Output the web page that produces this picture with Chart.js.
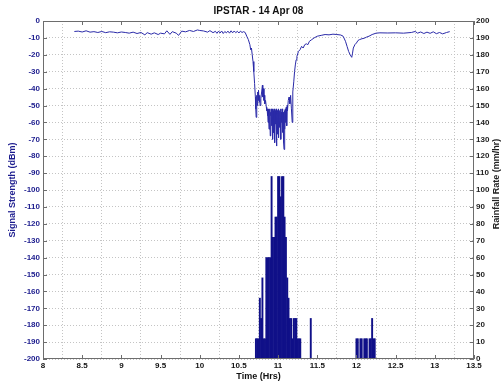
<!DOCTYPE html>
<html>
<head>
<meta charset="utf-8">
<script src="https://cdn.jsdelivr.net/npm/chart.js@4.4.0/dist/chart.umd.min.js"></script>
<style>
  html, body { margin: 0; padding: 0; background: #fff; }
  #wrap { width: 504px; height: 382px; }
</style>
</head>
<body>
<div id="wrap"><canvas id="chart" width="504" height="382"></canvas></div>
<script>
// signal strength (dBm) against time (hrs)
const sigTime = [
  8.40, 8.45, 8.50, 8.55, 8.60, 8.65, 8.70, 8.75, 8.80, 8.85, 8.90, 8.95, 9.00, 9.05, 9.10, 9.15, 9.20, 9.25,
  9.30, 9.33, 9.38, 9.42, 9.47, 9.50, 9.55, 9.58, 9.62, 9.65, 9.70, 9.73, 9.77, 9.82, 9.87, 9.92, 9.97,
  10.00, 10.05, 10.10, 10.13, 10.17, 10.20, 10.22, 10.24, 10.26, 10.28, 10.30, 10.32, 10.34, 10.36, 10.38,
  10.40, 10.42, 10.44, 10.46, 10.48, 10.50, 10.52, 10.54, 10.56, 10.58,
  10.60, 10.62, 10.64, 10.65, 10.66, 10.67, 10.68, 10.69, 10.70, 10.71, 10.715, 10.72, 10.725, 10.73,
  10.735, 10.74, 10.745, 10.75, 10.76, 10.765, 10.77, 10.78, 10.79, 10.80, 10.805, 10.81, 10.82, 10.825,
  10.83, 10.84, 10.85, 10.855,
  10.86, 10.864, 10.868, 10.872, 10.876, 10.88, 10.884, 10.888, 10.892, 10.896, 10.90, 10.904, 10.908,
  10.912, 10.916, 10.92, 10.924, 10.928, 10.932, 10.936, 10.94, 10.944, 10.948, 10.952, 10.956, 10.96,
  10.964, 10.968, 10.972, 10.976, 10.98, 10.984, 10.988, 10.992, 10.996, 11.00, 11.004, 11.008, 11.012,
  11.016, 11.02, 11.024, 11.028, 11.032, 11.036, 11.04, 11.044, 11.048, 11.052, 11.056, 11.06, 11.064,
  11.068, 11.072, 11.076, 11.08, 11.084, 11.088, 11.092, 11.096, 11.10, 11.104, 11.108, 11.112, 11.116, 11.12,
  11.13, 11.14, 11.15, 11.16, 11.17, 11.18, 11.185, 11.19, 11.20, 11.21, 11.22, 11.23, 11.24, 11.26, 11.28,
  11.30, 11.32, 11.34, 11.36, 11.38, 11.40, 11.43, 11.46, 11.50, 11.55, 11.60, 11.65, 11.70, 11.75, 11.80,
  11.83, 11.86, 11.88, 11.90, 11.92, 11.94, 11.95, 11.96, 11.98, 12.00, 12.02, 12.04, 12.07, 12.10, 12.13,
  12.16, 12.20, 12.25, 12.30, 12.40, 12.50, 12.60, 12.70, 12.75, 12.78, 12.82, 12.86, 12.90, 12.94, 12.98,
  13.02, 13.06, 13.10, 13.15, 13.19
];
const sigDbm = [
  -6.2, -6.0, -6.5, -5.8, -6.6, -6.3, -6.8, -6.2, -6.9, -6.4, -6.6, -7.0, -6.5, -6.8, -7.2, -6.6, -7.4, -6.8,
  -8.2, -6.9, -7.8, -7.0, -8.0, -7.2, -7.6, -5.8, -7.9, -6.3, -7.2, -8.5, -6.0, -6.4, -5.6, -6.2, -5.3,
  -5.6, -5.9, -6.6, -5.7, -6.9, -6.1, -7.3, -6.0, -7.1, -5.9, -7.4, -6.2, -7.0, -6.0, -7.2,
  -5.8, -7.0, -5.9, -6.9, -6.1, -7.1, -6.0, -6.8, -6.3, -6.8,
  -9, -11, -14, -17, -16, -20, -24, -30, -37, -45, -52, -57, -48, -44,
  -50, -42, -47, -41, -48, -44, -50, -46, -42, -38, -45, -40, -47, -44,
  -49, -47, -51, -53,
  -52, -56, -53, -60, -52, -55, -64, -53, -57, -52, -68, -54, -56,
  -52, -62, -53, -58, -52, -70, -55, -53, -66, -52, -57, -54, -72,
  -53, -56, -61, -52, -74, -55, -53, -67, -54, -58, -52, -69, -54,
  -56, -63, -53, -57, -52, -70, -54, -55, -60, -52, -66, -53, -57,
  -54, -72, -76, -55, -53, -64, -52, -56, -60, -51, -55, -62, -50, -53,
  -47, -45, -49, -44, -52, -60, -48, -42, -36, -30, -26, -23, -21, -18, -17,
  -15, -16, -14, -13.5, -14, -12, -11, -10, -9, -8.5, -8, -8.2, -7.8, -8, -8.3,
  -9, -12, -15, -18, -20, -21.5, -19, -16, -14, -13, -11.5, -11, -10.5, -10.2, -9.5,
  -9, -8, -7.2, -7, -7.1, -7, -7.2, -6.8, -6.2, -7.2, -6.5, -7.4, -6.6, -7.3, -6.4,
  -7.5, -6.8, -7.6, -6.8, -6.3
];

// rainfall rate (mm/hr), one-minute readings
const rainTime = [
  10.717, 10.733, 10.750, 10.767, 10.783, 10.800, 10.817, 10.833, 10.850, 10.867, 10.883, 10.900,
  10.917, 10.933, 10.950, 10.967, 10.983, 11.000, 11.017, 11.033, 11.050, 11.067, 11.083, 11.100,
  11.117, 11.133, 11.150, 11.167, 11.183, 11.200, 11.217, 11.233, 11.250, 11.267, 11.283,
  11.417,
  12.000, 12.017, 12.050, 12.067, 12.100, 12.117, 12.133, 12.167, 12.183, 12.200, 12.217, 12.233
];
const rainRate = [
  12, 12, 12, 36, 24, 48, 12, 12, 60, 60, 60, 60,
  108, 72, 72, 84, 84, 108, 108, 96, 108, 108, 84, 72,
  48, 36, 24, 24, 12, 24, 24, 24, 12, 12, 12,
  24,
  12, 12, 12, 12, 12, 12, 12, 12, 12, 24, 12, 12
];

const xTicks = { min: 8, max: 13.5, step: 0.5 };
const sigTicks = { min: -200, max: 0, step: 10 };
const rainTicks = { min: 0, max: 200, step: 10 };

const FONT = '"Liberation Sans", Arial, sans-serif';
const NAVY = '#1c1c8e';

const frame = {
  id: 'frame',
  afterDraw(chart) {
    const { ctx, chartArea: a, scales } = chart;
    ctx.save();
    ctx.strokeStyle = '#6d6d6d';
    ctx.lineWidth = 1;
    ctx.strokeRect(a.left + 0.5, a.top + 0.5, a.right - a.left - 1, a.bottom - a.top - 1);
    ctx.beginPath();
    scales.y.ticks.forEach(t => {
      const p = Math.round(scales.y.getPixelForValue(t.value)) + 0.5;
      ctx.moveTo(a.left, p); ctx.lineTo(a.left + 4, p);
      ctx.moveTo(a.right - 4, p); ctx.lineTo(a.right, p);
    });
    scales.x.ticks.forEach(t => {
      const p = Math.round(scales.x.getPixelForValue(t.value)) + 0.5;
      ctx.moveTo(p, a.top); ctx.lineTo(p, a.top + 4);
      ctx.moveTo(p, a.bottom); ctx.lineTo(p, a.bottom - 4);
    });
    ctx.stroke();
    // right axis title reads bottom to top
    ctx.translate(497, (a.top + a.bottom) / 2 - 6);
    ctx.rotate(-Math.PI / 2);
    ctx.font = 'bold 9px ' + FONT;
    ctx.fillStyle = '#222';
    ctx.textAlign = 'center';
    ctx.textBaseline = 'middle';
    ctx.fillText('Rainfall Rate (mm/hr)', 0, 0);
    ctx.restore();
  }
};

const ctx = document.getElementById('chart').getContext('2d');
new Chart(ctx, {
  type: 'bar',
  data: {
    datasets: [
      {
        type: 'line',
        label: 'Signal',
        data: sigTime.map((t, i) => ({ x: t, y: sigDbm[i] })),
        yAxisID: 'y',
        borderColor: '#2a2aa8',
        borderWidth: 1,
        pointRadius: 0,
        tension: 0,
        order: 1
      },
      {
        type: 'bar',
        label: 'Rain',
        data: rainTime.map((t, i) => ({ x: t, y: rainRate[i] })),
        yAxisID: 'y1',
        backgroundColor: '#101088',
        borderWidth: 0,
        barPercentage: 1,
        categoryPercentage: 1,
        order: 2
      }
    ]
  },
  options: {
    responsive: false,
    animation: false,
    layout: { padding: 0 },
    plugins: {
      legend: { display: false },
      tooltip: { enabled: false },
      title: {
        display: true,
        fullSize: false,
        text: 'IPSTAR - 14 Apr 08',
        color: '#111',
        font: { family: FONT, size: 10, weight: 'bold' },
        padding: { top: 5, bottom: 4 }
      }
    },
    scales: {
      x: {
        type: 'linear',
        min: xTicks.min,
        max: xTicks.max,
        offset: false,
        afterFit: s => { s.height = 23; },
        ticks: {
          stepSize: xTicks.step,
          color: '#111',
          font: { family: FONT, size: 8, weight: 'bold' },
          padding: 2,
          maxRotation: 0,
          autoSkip: false,
          callback: v => String(Math.round(v * 10) / 10)
        },
        grid: { color: '#c4c4c4', drawTicks: false },
        border: { display: false, dash: [1, 2] },
        title: {
          display: true,
          text: 'Time (Hrs)',
          color: '#111',
          font: { family: FONT, size: 9, weight: 'bold' },
          padding: { top: 0, bottom: 0 }
        }
      },
      y: {
        position: 'left',
        min: sigTicks.min,
        max: sigTicks.max,
        afterFit: s => { s.width = 43; },
        ticks: {
          stepSize: sigTicks.step,
          color: NAVY,
          font: { family: FONT, size: 8, weight: 'bold' },
          padding: 3,
          autoSkip: false
        },
        grid: { color: '#c4c4c4', drawTicks: false },
        border: { display: false, dash: [1, 2] },
        title: {
          display: true,
          text: 'Signal Strength (dBm)',
          color: NAVY,
          font: { family: FONT, size: 9, weight: 'bold' },
          padding: { top: 7, bottom: 0 }
        }
      },
      y1: {
        position: 'right',
        min: rainTicks.min,
        max: rainTicks.max,
        afterFit: s => { s.width = 30; },
        ticks: {
          stepSize: rainTicks.step,
          color: '#222',
          font: { family: FONT, size: 8, weight: 'bold' },
          padding: 2,
          autoSkip: false
        },
        grid: { display: false, drawTicks: false },
        border: { display: false }
      }
    }
  },
  plugins: [frame]
});
</script>
</body>
</html>
